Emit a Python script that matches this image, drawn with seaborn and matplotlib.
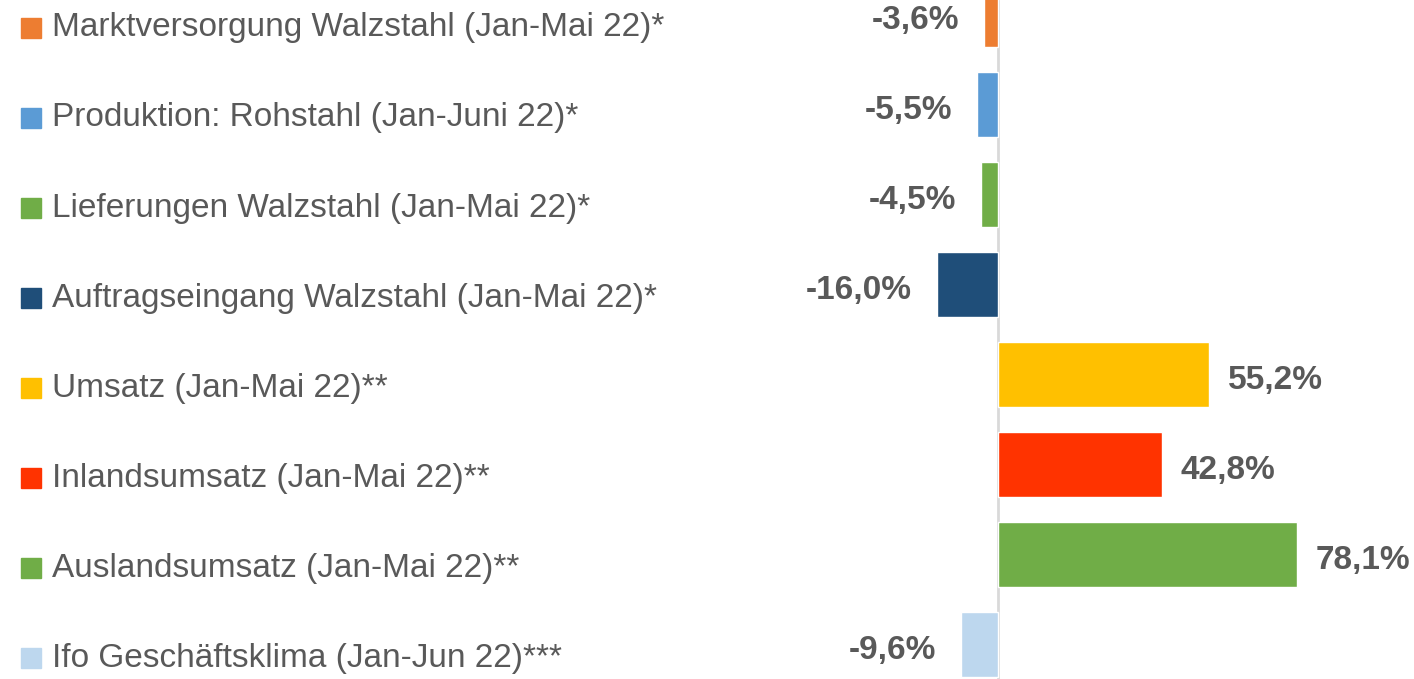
import numpy as np
import pandas as pd
import matplotlib
matplotlib.use('Agg')
import matplotlib.pyplot as plt
import matplotlib.transforms as mtransforms
import seaborn as sns

sns.set_style('white')
plt.rcParams['font.family'] = ['Liberation Sans Narrow', 'Liberation Sans', 'DejaVu Sans']

# Daten
labels = [
    'Marktversorgung Walzstahl (Jan-Mai 22)*',
    'Produktion: Rohstahl (Jan-Juni 22)*',
    'Lieferungen Walzstahl (Jan-Mai 22)*',
    'Auftragseingang Walzstahl (Jan-Mai 22)*',
    'Umsatz (Jan-Mai 22)**',
    'Inlandsumsatz (Jan-Mai 22)**',
    'Auslandsumsatz (Jan-Mai 22)**',
    'Ifo Geschäftsklima (Jan-Jun 22)***',
]
values = [-3.6, -5.5, -4.5, -16.0, 55.2, 42.8, 78.1, -9.6]
colors = ['#ED7D31', '#5B9BD5', '#70AD47', '#1F4E79',
          '#FFC000', '#FF3300', '#70AD47', '#BDD7EE']

TEXT = '#595959'

df = pd.DataFrame({'label': labels, 'value': values})

fig = plt.figure(figsize=(14.14, 6.79), dpi=100)
ax = fig.add_axes([0, 0, 1, 1])

sns.barplot(data=df, x='value', y='label', hue='label', palette=colors,
            orient='h', width=0.72, legend=False, ax=ax, saturation=1)

ax.set_xlim(-260.6, 108.6)
ax.set_ylim(7.383, -0.161)
ax.axvline(0, color='#D9D9D9', lw=2, zorder=0)

# Legenden-ähnliche Beschriftung links
trans = mtransforms.blended_transform_factory(ax.transAxes, ax.transData)
for i, (lab, col) in enumerate(zip(labels, colors)):
    ax.plot([0.0216], [i + 0.15], marker='s', markersize=14, color=col,
            transform=trans, clip_on=False)
    ax.text(0.0368, i + 0.15, lab, transform=trans, fontsize=24,
            color=TEXT, va='center', ha='left')

# Wertebeschriftungen
for i, v in enumerate(values):
    txt = f'{v:.1f}%'.replace('.', ',')
    if v < 0:
        ax.annotate(txt, (v, i + 0.07), xytext=(-18, 0), textcoords='offset points',
                    ha='right', va='center', fontsize=24, fontweight='bold', color=TEXT)
    else:
        ax.annotate(txt, (v, i + 0.07), xytext=(13, 0), textcoords='offset points',
                    ha='left', va='center', fontsize=24, fontweight='bold', color=TEXT)

ax.set_xlabel('')
ax.set_ylabel('')
ax.set_xticks([])
ax.set_yticks([])
for s in ax.spines.values():
    s.set_visible(False)

fig.savefig('out.png', dpi=100)
